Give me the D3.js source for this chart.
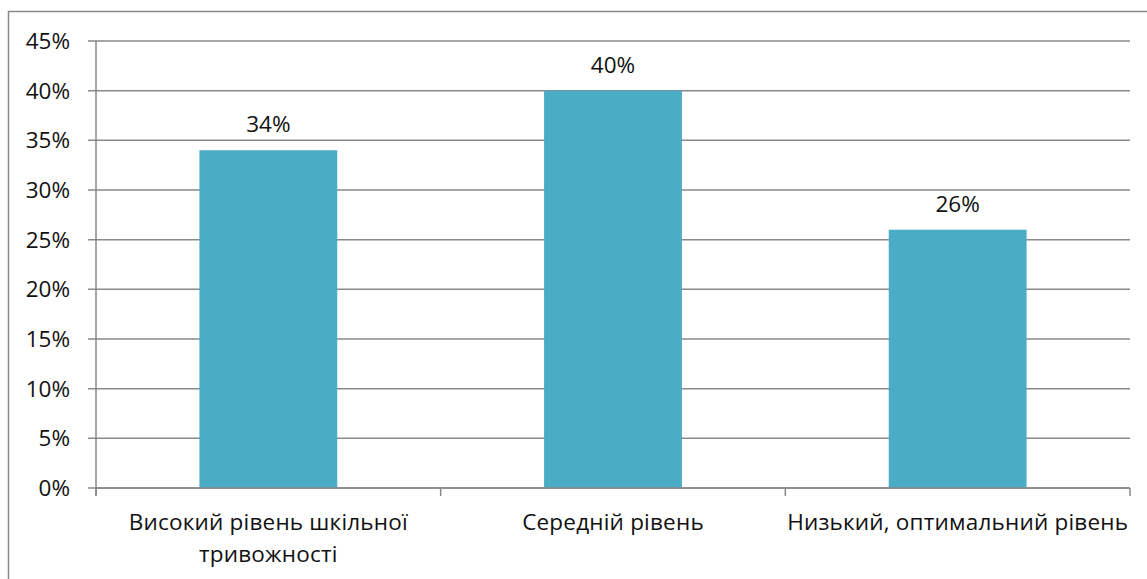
<!DOCTYPE html>
<html>
<head>
<meta charset="utf-8">
<script src="https://cdn.jsdelivr.net/npm/d3@7"></script>
<style>
  html, body { margin: 0; padding: 0; background: #fff; }
  svg { display: block; }
  text { font-family: "Open Sans", "Noto Sans", sans-serif; fill: #111; }
</style>
</head>
<body>
<svg id="chart" width="1147" height="579"></svg>
<script>
// Chart data
const categories = [
  ["Високий рівень шкільної", "тривожності"],
  ["Середній рівень"],
  ["Низький, оптимальний рівень"]
];
const values = [34, 40, 26];
const yTicks = [0, 5, 10, 15, 20, 25, 30, 35, 40, 45];

const svg = d3.select("#chart");
const margin = { left: 96, right: 17, top: 41, bottom: 91 };
const W = 1147, H = 579;
const fontSize = 22.5;

// Outer frame
svg.append("rect")
  .attr("x", 8.5).attr("y", 11.5)
  .attr("width", 1145).attr("height", 580)
  .attr("fill", "none").attr("stroke", "#898989").attr("stroke-width", 1.5);

const keys = categories.map((c, i) => i);
const xSlots = d3.scaleBand().domain(keys).range([margin.left, W - margin.right]).padding(0);
const x = d3.scaleBand().domain(keys).range([margin.left, W - margin.right])
  .paddingInner(0.6).paddingOuter(0.3);
const y = d3.scaleLinear().domain([0, 45]).range([H - margin.bottom, margin.top]);

const gridColor = "#898989";

// Horizontal gridlines with small left ticks
svg.append("g").selectAll("line").data(yTicks).join("line")
  .attr("x1", margin.left - 8).attr("x2", W - margin.right)
  .attr("y1", d => y(d)).attr("y2", d => y(d))
  .attr("stroke", gridColor).attr("stroke-width", 1.5);

// Y axis line
svg.append("line")
  .attr("x1", margin.left).attr("x2", margin.left)
  .attr("y1", y(45)).attr("y2", y(0) + 8)
  .attr("stroke", gridColor).attr("stroke-width", 1.5);

// Y tick labels
svg.append("g").selectAll("text").data(yTicks).join("text")
  .attr("x", 70).attr("y", d => y(d))
  .attr("dy", "0.35em")
  .attr("text-anchor", "end")
  .attr("font-size", fontSize)
  .text(d => d + "%");

// Bars
svg.append("g").selectAll("rect").data(values).join("rect")
  .attr("x", (d, i) => x(i))
  .attr("y", d => y(d))
  .attr("width", x.bandwidth())
  .attr("height", d => y(0) - y(d))
  .attr("fill", "#4BACC6");

// X axis baseline and category boundary ticks
svg.append("line")
  .attr("x1", margin.left).attr("x2", W - margin.right)
  .attr("y1", y(0)).attr("y2", y(0))
  .attr("stroke", gridColor).attr("stroke-width", 1.5);

const boundaries = keys.map(k => xSlots(k)).concat([W - margin.right]);
svg.append("g").selectAll("line").data(boundaries).join("line")
  .attr("x1", d => d).attr("x2", d => d)
  .attr("y1", y(0)).attr("y2", y(0) + 8)
  .attr("stroke", gridColor).attr("stroke-width", 1.5);

// Value labels above bars
svg.append("g").selectAll("text").data(values).join("text")
  .attr("x", (d, i) => x(i) + x.bandwidth() / 2)
  .attr("y", d => y(d) - 18)
  .attr("text-anchor", "middle")
  .attr("font-size", fontSize)
  .text(d => d + "%");

// Category labels (wrapped onto lines)
const catG = svg.append("g").selectAll("text").data(categories).join("text")
  .attr("text-anchor", "middle")
  .attr("font-size", fontSize)
  .attr("letter-spacing", 0.2);
catG.each(function(lines, i) {
  const t = d3.select(this);
  lines.forEach((ln, j) => {
    t.append("tspan")
      .attr("x", xSlots(i) + xSlots.bandwidth() / 2)
      .attr("y", 530 + j * 32)
      .text(ln);
  });
});
</script>
</body>
</html>
